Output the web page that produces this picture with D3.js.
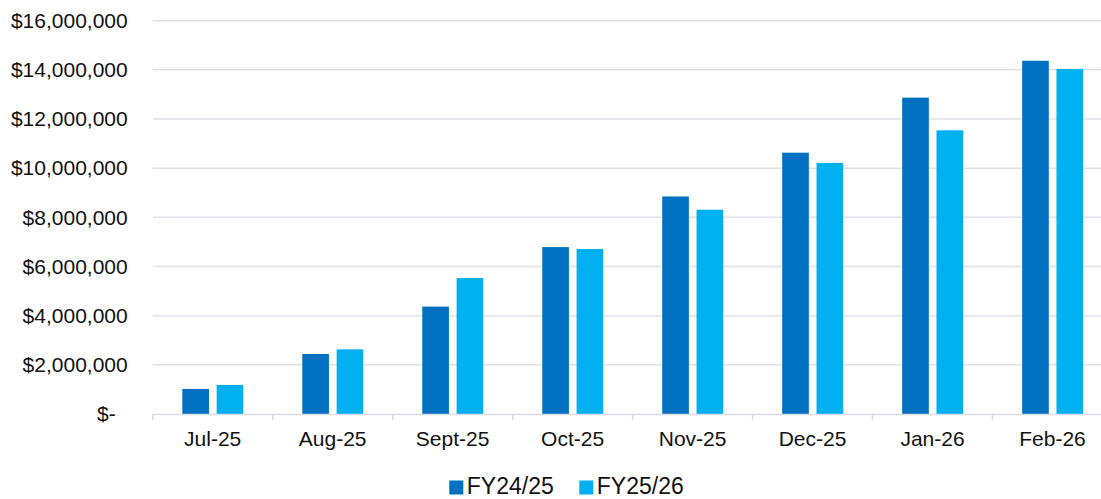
<!DOCTYPE html>
<html>
<head>
<meta charset="utf-8">
<script src="https://cdn.jsdelivr.net/npm/d3@7"></script>
<style>
  body { margin: 0; background: #fff; }
  text { font-family: "Liberation Sans", Arial, sans-serif; fill: #111; }
</style>
</head>
<body>
<div id="chart"></div>
<script>
let months = ["Jul-25", "Aug-25", "Sept-25", "Oct-25", "Nov-25", "Dec-25", "Jan-26", "Feb-26"];
let seriesNames = ["FY24/25", "FY25/26"];
let fy2425 = [1020000, 2440000, 4370000, 6790000, 8850000, 10630000, 12870000, 14370000];
let fy2526 = [1180000, 2630000, 5530000, 6710000, 8310000, 10210000, 11540000, 14040000];
let yTicks = [0, 2000000, 4000000, 6000000, 8000000, 10000000, 12000000, 14000000, 16000000];

let colorMap = {"FY24/25": "#0070C0", "FY25/26": "#00B0F0"};

let W = 1101, H = 499;
let plot = {left: 152.7, right: 1112.5, top: 20.7, bottom: 414};

let svg = d3.select("#chart")
            .append("svg")
            .attr("width", W)
            .attr("height", H);

let x0 = d3.scaleBand()
           .domain(months)
           .range([plot.left, plot.right])
           .padding(0);

let x1 = d3.scaleBand()
           .domain(seriesNames)
           .range([x0.bandwidth() * 0.247, x0.bandwidth() * 0.755])
           .paddingInner(0.224)
           .paddingOuter(0);

let y = d3.scaleLinear()
          .domain([0, 16000000])
          .range([plot.bottom, plot.top]);

// gridlines
svg.append("g")
   .selectAll("line")
   .data(yTicks.filter(d => d > 0))
   .enter().append("line")
    .attr("x1", plot.left)
    .attr("x2", plot.right)
    .attr("y1", d => y(d))
    .attr("y2", d => y(d))
    .attr("stroke", "#dfe2e7")
    .attr("stroke-width", 1.5);

// y axis labels
let yAxis = svg.append("g")
   .attr("transform", "translate(" + (plot.left - 25) + ",0)")
   .call(d3.axisLeft(y)
           .tickValues(yTicks)
           .tickSize(0)
           .tickPadding(0)
           .tickFormat(d => d === 0 ? "$-" : "$" + d3.format(",")(d)));
yAxis.select(".domain").remove();
yAxis.selectAll("text")
     .attr("font-size", "21px")
     .attr("font-family", "Liberation Sans, Arial, sans-serif")
     .attr("fill", "#111")
     .attr("dx", d => d === 0 ? -12 : 0);

let rows = months.map((m, i) => ({month: m, values: [
  {key: seriesNames[0], value: fy2425[i]},
  {key: seriesNames[1], value: fy2526[i]}
]}));

// bars
svg.append("g")
   .selectAll("g")
   .data(rows)
   .enter().append("g")
    .attr("transform", d => "translate(" + x0(d.month) + ",0)")
   .selectAll("rect")
   .data(d => d.values)
   .enter().append("rect")
    .attr("x", d => x1(d.key))
    .attr("width", x1.bandwidth())
    .attr("y", d => y(d.value))
    .attr("height", d => plot.bottom - y(d.value))
    .attr("fill", d => colorMap[d.key]);

// x axis line and category boundary ticks
let xAxis = svg.append("g")
   .attr("transform", "translate(0," + (plot.bottom + 0.5) + ")");
xAxis.append("line")
   .attr("x1", plot.left)
   .attr("x2", plot.right)
   .attr("stroke", "#d9dde3")
   .attr("stroke-width", 1.5);
xAxis.selectAll(".bound")
   .data(months.map(m => x0(m)).concat([plot.right]))
   .enter().append("line")
    .attr("class", "bound")
    .attr("x1", d => d)
    .attr("x2", d => d)
    .attr("y1", 0)
    .attr("y2", 6)
    .attr("stroke", "#d9dde3")
    .attr("stroke-width", 1.5);
xAxis.selectAll(".lbl")
   .data(months)
   .enter().append("text")
    .attr("class", "lbl")
    .attr("x", d => x0(d) + x0.bandwidth() / 2)
    .attr("y", 31.5)
    .attr("text-anchor", "middle")
    .attr("font-size", "21px")
    .text(d => d);

// legend (nudged up slightly so the text box stays inside the frame)
let legendX = [449.3, 579.3];
let legend = svg.append("g")
   .selectAll("g")
   .data(seriesNames)
   .enter().append("g")
    .attr("transform", (d, i) => "translate(" + legendX[i] + ",480.5)");
legend.append("rect")
   .attr("width", 14)
   .attr("height", 14)
   .attr("fill", d => colorMap[d]);
legend.append("text")
   .attr("x", 17.5)
   .attr("y", 13.5)
   .attr("font-size", "23px")
   .text(d => d);
</script>
</body>
</html>
